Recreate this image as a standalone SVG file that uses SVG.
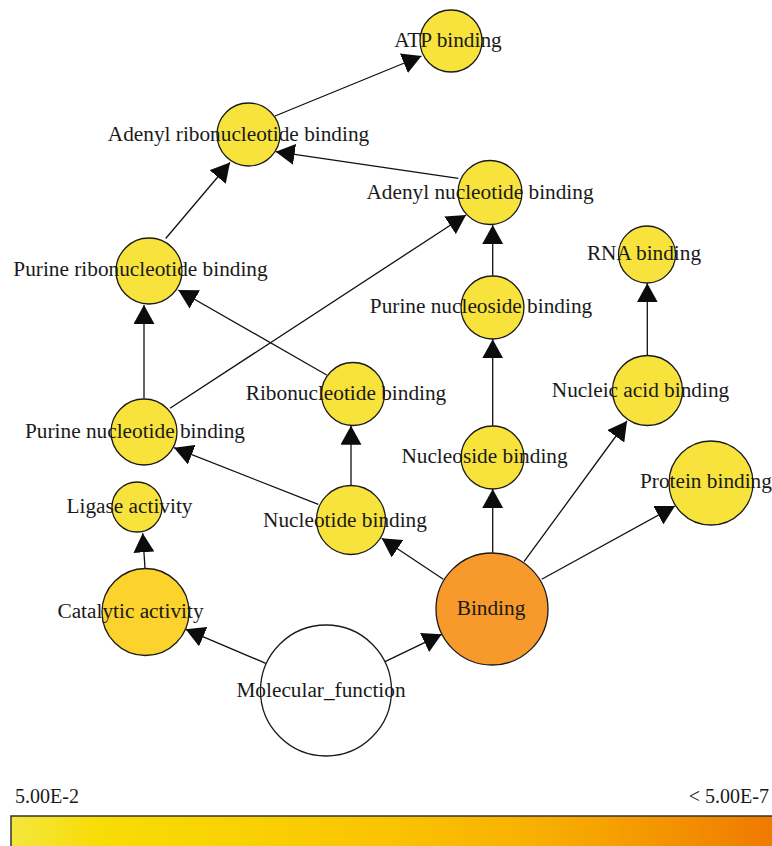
<svg xmlns="http://www.w3.org/2000/svg" width="772" height="846" viewBox="0 0 772 846">
<defs>
<marker id="arr" viewBox="0 0 19 21" refX="19" refY="10.5" markerWidth="19" markerHeight="21" markerUnits="userSpaceOnUse" orient="auto">
<path d="M0,0 L19,10.5 L0,21 z" fill="#0c0c0c"/>
</marker>
<linearGradient id="grad" gradientUnits="userSpaceOnUse" x1="11" y1="0" x2="772" y2="0">
<stop offset="0" stop-color="#F4E63E"/>
<stop offset="0.117" stop-color="#F8DC05"/>
<stop offset="0.314" stop-color="#F9D100"/>
<stop offset="0.498" stop-color="#FAC300"/>
<stop offset="0.658" stop-color="#F9B300"/>
<stop offset="0.774" stop-color="#F6A300"/>
<stop offset="0.879" stop-color="#F39000"/>
<stop offset="1" stop-color="#EF7A00"/>
</linearGradient>
<style>
.edge{stroke:#111;stroke-width:1.3;fill:none;marker-end:url(#arr)}
.node circle{stroke:#1a1a1a;stroke-width:1.3}
.y{fill:#F8E33C}
.lbl{font-family:"Liberation Serif","Times New Roman",serif;font-size:21.3px;fill:#1a1a1a;text-anchor:middle}
.leg{font-family:"Liberation Serif","Times New Roman",serif;font-size:20px;fill:#1a1a1a}
</style>
</defs>
<g id="connectors">
<line class="edge" x1="275" y1="116" x2="421.5" y2="56"/>
<line class="edge" x1="458.3" y1="178.3" x2="275.7" y2="151.7"/>
<line class="edge" x1="165.7" y1="238.5" x2="230" y2="162.5"/>
<line class="edge" x1="170" y1="408.3" x2="466" y2="215"/>
<line class="edge" x1="492.7" y1="275.7" x2="492.7" y2="225"/>
<line class="edge" x1="144" y1="398.3" x2="144" y2="305"/>
<line class="edge" x1="326.7" y1="375" x2="178.3" y2="290"/>
<line class="edge" x1="492.7" y1="426" x2="492.7" y2="339.3"/>
<line class="edge" x1="351" y1="485" x2="351" y2="425.7"/>
<line class="edge" x1="318.3" y1="504.3" x2="174" y2="447.7"/>
<line class="edge" x1="647.3" y1="355" x2="647.3" y2="283.3"/>
<line class="edge" x1="524" y1="561.7" x2="627" y2="421"/>
<line class="edge" x1="541.7" y1="579.3" x2="675" y2="506"/>
<line class="edge" x1="492.7" y1="552.7" x2="492.7" y2="489"/>
<line class="edge" x1="443.3" y1="579.3" x2="381.7" y2="538.3"/>
<line class="edge" x1="145" y1="568.3" x2="142.7" y2="533.3"/>
<line class="edge" x1="265.7" y1="663.3" x2="185.7" y2="629.3"/>
<line class="edge" x1="385" y1="661.7" x2="441.7" y2="634.3"/>
</g>
<g id="atp_binding" class="node"><circle class="y" cx="451" cy="41" r="31"/><text class="lbl" x="448" y="47">ATP binding</text></g>
<g id="adenyl_ribonucleotide_binding" class="node"><circle class="y" cx="248.5" cy="134.5" r="31.5"/><text class="lbl" x="238.5" y="141">Adenyl ribonucleotide binding</text></g>
<g id="adenyl_nucleotide_binding" class="node"><circle class="y" cx="490" cy="192.5" r="32"/><text class="lbl" x="480" y="199">Adenyl nucleotide binding</text></g>
<g id="purine_ribonucleotide_binding" class="node"><circle class="y" cx="149" cy="271" r="33"/><text class="lbl" x="140.5" y="276">Purine ribonucleotide binding</text></g>
<g id="rna_binding" class="node"><circle class="y" cx="647" cy="254.5" r="28.5"/><text class="lbl" x="644" y="260">RNA binding</text></g>
<g id="purine_nucleoside_binding" class="node"><circle class="y" cx="492.5" cy="307.5" r="31.5"/><text class="lbl" x="481" y="313">Purine nucleoside binding</text></g>
<g id="nucleic_acid_binding" class="node"><circle class="y" cx="647.5" cy="390.5" r="35"/><text class="lbl" x="640.5" y="397">Nucleic acid binding</text></g>
<g id="ribonucleotide_binding" class="node"><circle class="y" cx="353" cy="394" r="31.5"/><text class="lbl" x="346" y="400">Ribonucleotide binding</text></g>
<g id="purine_nucleotide_binding" class="node"><circle class="y" cx="144" cy="432" r="33"/><text class="lbl" x="135" y="438">Purine nucleotide binding</text></g>
<g id="nucleoside_binding" class="node"><circle class="y" cx="492.5" cy="457.5" r="31.5"/><text class="lbl" x="484.5" y="463">Nucleoside binding</text></g>
<g id="protein_binding" class="node"><circle class="y" cx="711" cy="483" r="42"/><text class="lbl" x="640" y="488" style="text-anchor:start">Protein binding</text></g>
<g id="ligase_activity" class="node"><circle class="y" cx="137" cy="507" r="25"/><text class="lbl" x="129.5" y="513">Ligase activity</text></g>
<g id="nucleotide_binding" class="node"><circle class="y" cx="351" cy="520" r="34.5"/><text class="lbl" x="345" y="527">Nucleotide binding</text></g>
<g id="catalytic_activity" class="node"><circle cx="145.5" cy="612" r="43.5" fill="#FCD22C"/><text class="lbl" x="130.5" y="618">Catalytic activity</text></g>
<g id="molecular_function" class="node"><circle cx="326" cy="690.5" r="65.5" fill="#FFFFFF"/><text class="lbl" x="321" y="697">Molecular_function</text></g>
<g id="binding" class="node"><circle cx="492" cy="609" r="56" fill="#F7992B"/><text class="lbl" x="491" y="615">Binding</text></g>
<g id="legend">
<text class="leg" x="15" y="803">5.00E-2</text>
<text class="leg" x="769" y="803" text-anchor="end">&lt; 5.00E-7</text>
<rect x="11" y="816" width="775" height="40" fill="url(#grad)" stroke="#333" stroke-width="1.5"/>
</g>
</svg>
